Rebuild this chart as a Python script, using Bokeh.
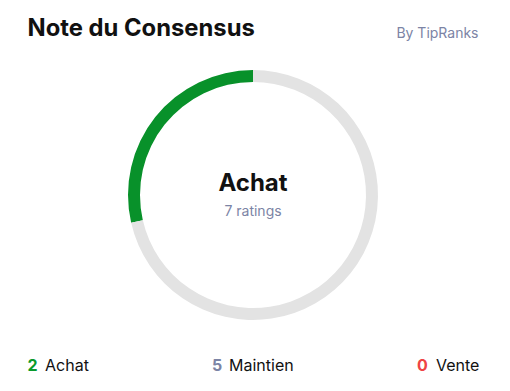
import math
from bokeh.plotting import figure
from bokeh.models import Range1d
from bokeh.core.properties import value
from bokeh.embed import file_html
from bokeh.resources import INLINE

# ---- data ----
categories = ["Achat", "Maintien", "Vente"]
counts = [2, 5, 0]
count_colors = ["#0a9a2c", "#7c84a5", "#ef4444"]
ring_colors = ["#08912a", "#e3e3e3", "#e3e3e3"]
title_text = "Note du Consensus"
source_text = "By TipRanks"
consensus = "Achat"
total = sum(counts)
ratings_text = f"{total} ratings"

W, H = 510, 391
FONT = value("Inter")

p = figure(width=W, height=H, output_backend="svg", toolbar_location=None,
           x_range=Range1d(0, W), y_range=Range1d(0, H),
           min_border=0, outline_line_color=None)
p.axis.visible = False
p.grid.visible = False
p.background_fill_color = "white"
p.border_fill_color = "white"

def Y(y, size=0):
    # compensate baseline offset observed in rendering
    return H - (y - 0.43 * size)

# ---- ring ----
cx, cy = 252.5, H - 194.5
r_out, r_in = 125, 113
starts, ends = [], []
a = math.pi / 2
for c in counts:
    frac = c / total if total else 0
    starts.append(a)
    a = a + frac * 2 * math.pi
    ends.append(a)
for s, e, col, c in zip(starts, ends, ring_colors, counts):
    if c > 0:
        p.annular_wedge(x=cx, y=cy, inner_radius=r_in, outer_radius=r_out,
                        start_angle=s, end_angle=e, direction="anticlock",
                        fill_color=col, line_color=None)

# ---- header ----
p.text(x=[27], y=[Y(37, 23.8)], text=[title_text], text_font=FONT,
       text_font_size="23.8px", text_font_style="bold", text_color="#111111",
       text_baseline="alphabetic", text_align="left")
p.text(x=[478], y=[Y(38.5, 14)], text=[source_text], text_font=FONT,
       text_font_size="14px", text_color="#7c84a5",
       text_baseline="alphabetic", text_align="right")

# ---- center ----
p.text(x=[cx], y=[Y(192.5, 24)], text=[consensus], text_font=FONT,
       text_font_size="24px", text_font_style="bold", text_color="#111111",
       text_baseline="alphabetic", text_align="center")
p.text(x=[cx], y=[Y(216.5, 14)], text=[ratings_text], text_font=FONT,
       text_font_size="14px", text_color="#7c84a5",
       text_baseline="alphabetic", text_align="center")

# ---- bottom legend ----
num_x = [27, 211.5, 416.5]
name_x = [44.5, 228.5, 435.5]
base = Y(371, 16)
p.text(x=num_x, y=[base] * 3, text=[str(c) for c in counts], text_font=FONT,
       text_font_size="16px", text_font_style="bold", text_color=count_colors,
       text_baseline="alphabetic", text_align="left")
p.text(x=name_x, y=[base] * 3, text=categories, text_font=FONT,
       text_font_size="16px", text_color="#111111",
       text_baseline="alphabetic", text_align="left")

open("out.html", "w").write(file_html(p, INLINE))
